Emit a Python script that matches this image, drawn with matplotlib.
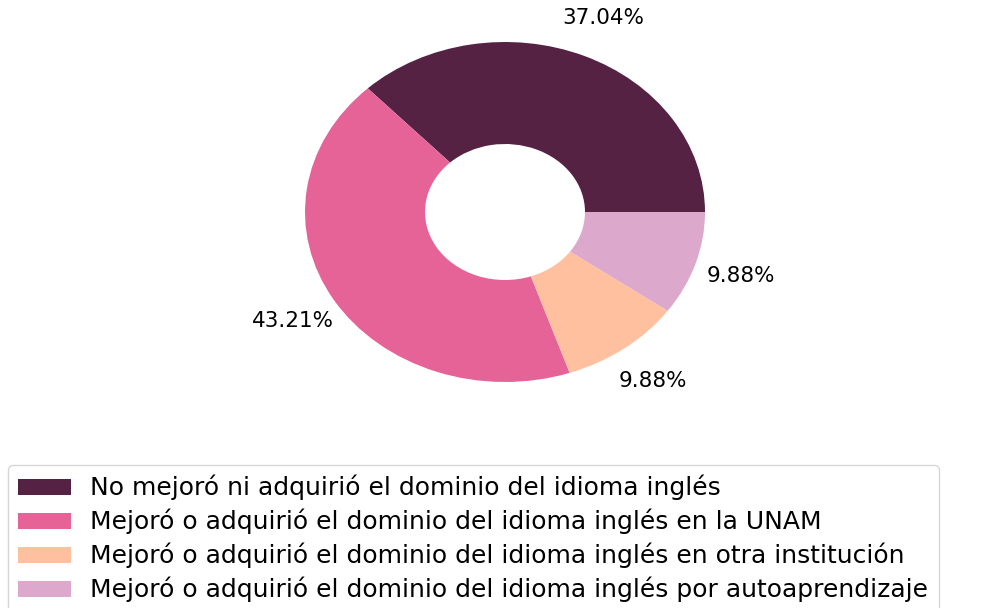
import matplotlib.pyplot as plt

labels = [
    'No mejoró ni adquirió el dominio del idioma inglés',
    'Mejoró o adquirió el dominio del idioma inglés en la UNAM',
    'Mejoró o adquirió el dominio del idioma inglés en otra institución',
    'Mejoró o adquirió el dominio del idioma inglés por autoaprendizaje',
]
values = [37.04, 43.21, 9.88, 9.88]
colors = ['#552244', '#E66398', '#FFC0A0', '#DCA8CB']

fig = plt.figure(figsize=(9.97, 6.08), dpi=100)
ax = fig.add_axes([305 / 997, (608 - 382) / 608, 400 / 997, 340 / 608])

wedges, texts, autotexts = ax.pie(values, colors=colors, autopct='%.2f%%',
                                  pctdistance=1.24, startangle=0,
                                  wedgeprops=dict(width=0.6),
                                  textprops=dict(fontsize=15.5))
ax.set_aspect('auto')
ax.set_xlim(-1, 1)
ax.set_ylim(-1, 1)

fig.legend(wedges, labels, loc='upper left',
           bbox_to_anchor=(8 / 997, 1 - 465 / 608),
           bbox_transform=fig.transFigure, borderaxespad=0,
           fontsize=18, handlelength=2.1, handleheight=0.6,
           handletextpad=0.8, labelspacing=0.34)

fig.savefig('out.png', dpi=100)
